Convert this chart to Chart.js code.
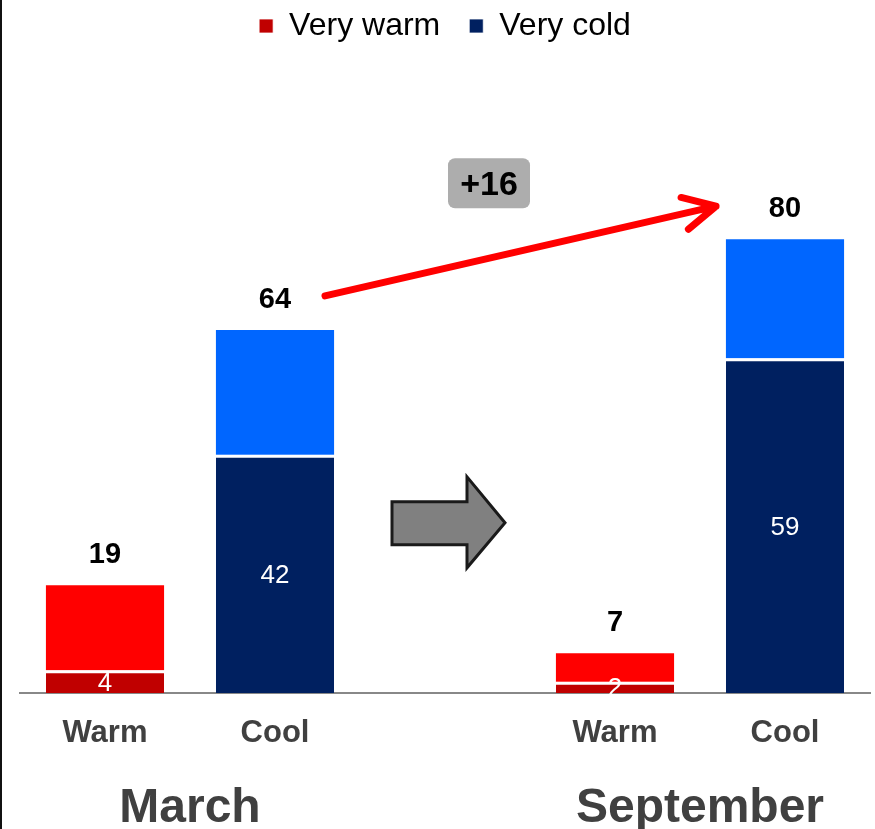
<!DOCTYPE html>
<html lang="en">
<head>
  <meta charset="UTF-8">
  <title>Very warm / Very cold</title>
  <script src="https://cdn.jsdelivr.net/npm/chart.js"></script>
  <style>
    body {
      margin: 0;
      background-color: white;
    }

    canvas {
      display: block;
    }
  </style>
</head>
<body>
  <canvas id="grafico" width="875" height="829"></canvas>
  <script>
    // categories (index 2 is the empty gap between the two months)
    const categorias = ["Warm", "Cool", "", "Warm", "Cool"];
    const meses = ["March", "September"];

    // series values
    const muitoQuente = [4, null, null, 2, null];   // Very warm
    const quente = [15, null, null, 5, null];       // rest of Warm
    const muitoFrio = [null, 42, null, null, 59];   // Very cold
    const frio = [null, 22, null, null, 21];        // rest of Cool

    const totais = categorias.map((c, i) => {
      const partes = [muitoQuente[i], quente[i], muitoFrio[i], frio[i]].filter(v => v != null);
      return partes.length ? partes.reduce((a, b) => a + b, 0) : null;
    });

    const FONTE = '"Liberation Sans", Arial, sans-serif';

    const extras = {
      id: "extras",
      afterDatasetsDraw(chart) {
        const ctx = chart.ctx;
        const x = chart.scales.x;
        const y = chart.scales.y;
        ctx.save();

        // borda esquerda
        ctx.fillStyle = "#111";
        ctx.fillRect(0, 0, 2, chart.height);

        // numeros dentro das barras de baixo
        ctx.textAlign = "center";
        ctx.textBaseline = "middle";
        ctx.font = "26px " + FONTE;
        ctx.fillStyle = "white";
        [0, 2].forEach(di => {
          chart.getDatasetMeta(di).data.forEach((bar, i) => {
            const v = chart.data.datasets[di].data[i];
            if (v == null) return;
            const p = bar.getProps(["x", "y", "base"], true);
            ctx.fillText(v, p.x, (p.y + p.base) / 2 + 2);
          });
        });

        // totais em cima
        ctx.font = "bold 29px " + FONTE;
        ctx.fillStyle = "black";
        totais.forEach((t, i) => {
          if (t == null) return;
          ctx.fillText(t, x.getPixelForValue(i), y.getPixelForValue(t) - 30);
        });

        // meses
        ctx.font = "bold 48px " + FONTE;
        ctx.fillStyle = "#404040";
        ctx.textBaseline = "alphabetic";
        ctx.fillText(meses[0], (x.getPixelForValue(0) + x.getPixelForValue(1)) / 2, chart.height - 7);
        ctx.fillText(meses[1], (x.getPixelForValue(3) + x.getPixelForValue(4)) / 2, chart.height - 7);

        // seta cinza no meio
        const cx = x.getPixelForValue(2);
        const cy = y.getPixelForValue(30);
        ctx.beginPath();
        ctx.moveTo(cx - 53, cy - 21);
        ctx.lineTo(cx + 22, cy - 21);
        ctx.lineTo(cx + 22, cy - 46);
        ctx.lineTo(cx + 60, cy);
        ctx.lineTo(cx + 22, cy + 45);
        ctx.lineTo(cx + 22, cy + 22);
        ctx.lineTo(cx - 53, cy + 22);
        ctx.closePath();
        ctx.fillStyle = "#808080";
        ctx.fill();
        ctx.lineWidth = 3;
        ctx.strokeStyle = "#1a1a1a";
        ctx.lineJoin = "miter";
        ctx.stroke();

        // seta vermelha de 64 para 80
        const x1 = x.getPixelForValue(1) + 50;
        const y1 = y.getPixelForValue(totais[1]) - 34;
        const x2 = x.getPixelForValue(4) - 69;
        const y2 = y.getPixelForValue(totais[4]) - 33;
        ctx.strokeStyle = "#ff0000";
        ctx.lineWidth = 7;
        ctx.lineCap = "round";
        ctx.lineJoin = "round";
        ctx.beginPath();
        ctx.moveTo(x1, y1);
        ctx.lineTo(x2, y2);
        const ang = Math.atan2(y1 - y2, x1 - x2);
        const abertura = 27 * Math.PI / 180;
        ctx.moveTo(x2 + 36 * Math.cos(ang + abertura), y2 + 36 * Math.sin(ang + abertura));
        ctx.lineTo(x2, y2);
        ctx.lineTo(x2 + 36 * Math.cos(ang - abertura), y2 + 36 * Math.sin(ang - abertura));
        ctx.stroke();

        // caixa com a diferenca
        const bx = (x.getPixelForValue(1) + x.getPixelForValue(4)) / 2 - 41;
        const by = y.getPixelForValue(totais[4]) - 56;
        ctx.fillStyle = "#adadad";
        ctx.beginPath();
        ctx.roundRect(bx - 41, by - 25, 82, 50, 7);
        ctx.fill();
        ctx.fillStyle = "black";
        ctx.font = "bold 34px " + FONTE;
        ctx.textBaseline = "middle";
        ctx.fillText("+" + (totais[4] - totais[1]), bx, by + 2);

        ctx.restore();
      }
    };

    new Chart(document.getElementById("grafico"), {
      type: "bar",
      data: {
        labels: categorias,
        datasets: [
          {
            label: "Very warm",
            data: muitoQuente,
            backgroundColor: "#c00000",
            borderColor: "white",
            borderWidth: { top: 3, right: 0, bottom: 0, left: 0 },
            borderSkipped: false
          },
          {
            label: "Warm",
            data: quente,
            backgroundColor: "#ff0000",
            borderWidth: 0
          },
          {
            label: "Very cold",
            data: muitoFrio,
            backgroundColor: "#002060",
            borderColor: "white",
            borderWidth: { top: 3, right: 0, bottom: 0, left: 0 },
            borderSkipped: false
          },
          {
            label: "Cool",
            data: frio,
            backgroundColor: "#0066ff",
            borderWidth: 0
          }
        ]
      },
      options: {
        responsive: false,
        animation: false,
        barPercentage: 0.695,
        categoryPercentage: 1,
        layout: { padding: { left: 20, right: 5, top: -19, bottom: 0 } },
        plugins: {
          tooltip: { enabled: false },
          legend: {
            position: "top",
            labels: {
              filter: item => item.text === "Very warm" || item.text === "Very cold",
              color: "black",
              boxWidth: 14,
              boxHeight: 14,
              padding: 29,
              font: { family: FONTE, size: 32 }
            }
          }
        },
        scales: {
          x: {
            stacked: true,
            grid: { display: false, drawTicks: false },
            border: { display: true, color: "#888", width: 2 },
            ticks: {
              color: "#404040",
              padding: 22,
              font: { family: FONTE, size: 31, weight: "bold" }
            },
            afterFit(scale) {
              scale.height = 136;
            }
          },
          y: {
            stacked: true,
            display: false,
            min: 0,
            max: 113
          }
        }
      },
      plugins: [extras]
    });
  </script>
</body>
</html>
